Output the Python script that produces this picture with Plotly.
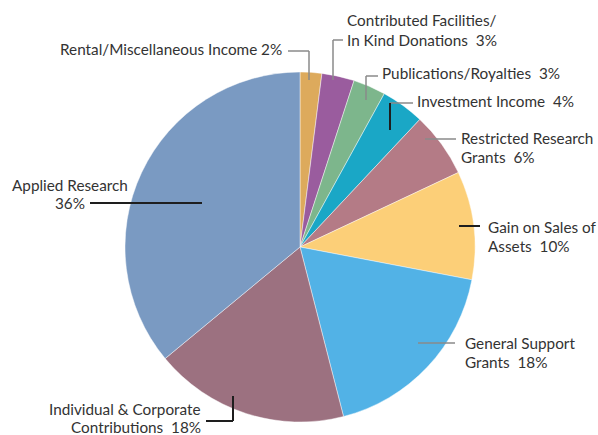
import plotly.graph_objects as go

W, H = 598, 435

categories = ["Rental/Miscellaneous Income", "Contributed Facilities/In Kind Donations",
              "Publications/Royalties", "Investment Income", "Restricted Research Grants",
              "Gain on Sales of Assets", "General Support Grants",
              "Individual & Corporate Contributions", "Applied Research"]
values = [2, 3, 3, 4, 6, 10, 18, 18, 36]
colors = ["#DDAA5C", "#9A5C9E", "#7DB68C", "#1AA7C6", "#B47B86",
          "#FCCF78", "#52B2E6", "#9C7180", "#7A9AC2"]

fig = go.Figure()
fig.add_trace(go.Pie(
    labels=categories, values=values, sort=False, direction="clockwise",
    rotation=0, textinfo="none", hoverinfo="label+percent",
    marker=dict(colors=colors, line=dict(color="rgba(255,255,255,0.55)", width=0.8)),
    domain=dict(x=[125 / W, 475 / W], y=[1 - 422 / H, 1 - 72 / H]),
    showlegend=False,
))

def px(x):
    return x / W

def py(y):
    return 1 - y / H

FONT = dict(family="Lato, 'Open Sans', sans-serif", size=15.3, color="#333333")

def label(text, x, y, anchor):
    fig.add_annotation(text=text, x=px(x), y=py(y), xref="paper", yref="paper",
                       xanchor=anchor, yanchor="middle", showarrow=False,
                       font=FONT, align=anchor if anchor != "center" else "center")

def line(pts, color, width):
    for (x0, y0), (x1, y1) in zip(pts[:-1], pts[1:]):
        fig.add_shape(type="line", xref="paper", yref="paper",
                      x0=px(x0), y0=py(y0), x1=px(x1), y1=py(y1),
                      line=dict(color=color, width=width))

GRAY = "#8a8a8a"
BLACK = "#1e1e1e"

label("Rental/Miscellaneous Income " + f"{values[0]}%", 284, 49, "right")
line([(288, 51), (309, 51), (309, 80)], GRAY, 1.5)

label("Contributed Facilities/", 345, 20, "left")
label(f"In Kind Donations  {values[1]}%", 345, 40, "left")
line([(343, 40), (333, 40), (333, 80)], GRAY, 1.5)

label(f"Publications/Royalties  {values[2]}%", 380, 73, "left")
line([(378, 76), (366, 76), (366, 100)], GRAY, 1.5)

label(f"Investment Income  {values[3]}%", 415, 101, "left")
line([(413, 103), (390, 103)], GRAY, 1.5)
line([(390, 103), (390, 130)], BLACK, 2)

label("Restricted Research", 459, 138, "left")
label(f"Grants  {values[4]}%", 459, 157, "left")
line([(425, 139), (456, 139)], GRAY, 1.5)

label("Gain on Sales of", 486, 227, "left")
label(f"Assets  {values[5]}%", 486, 246, "left")
line([(459, 226), (480, 226)], BLACK, 2)

label("General Support", 463, 343, "left")
label(f"Grants  {values[6]}%", 463, 362, "left")
line([(418, 343), (455, 343)], GRAY, 1.5)

label("Individual & Corporate", 203, 408.5, "right")
label(f"Contributions  {values[7]}%", 203, 426.5, "right")
line([(206, 421), (233, 421), (233, 396)], BLACK, 2)

label("Applied Research", 70, 185, "center")
label(f"{values[8]}%", 70, 203, "center")
line([(90, 203), (202, 203)], BLACK, 2)

fig.update_layout(
    width=W, height=H, margin=dict(l=0, r=0, t=0, b=0),
    paper_bgcolor="white", plot_bgcolor="white",
)

fig.write_html("out.html", config={"displayModeBar": False},
               post_script="document.body.style.margin='0';document.body.style.overflow='hidden';")
